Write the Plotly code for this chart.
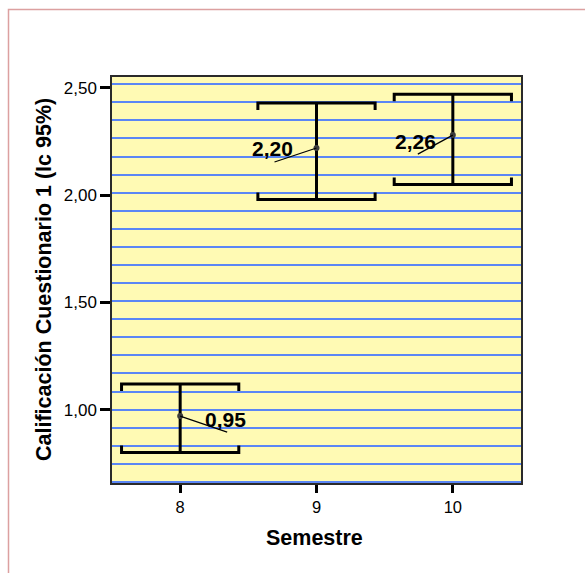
import plotly.graph_objects as go

# ---- data ----
semestres = [8, 9, 10]
medias = [0.97, 2.22, 2.28]
ic_inferior = [0.80, 1.98, 2.05]
ic_superior = [1.12, 2.43, 2.47]
etiquetas = ["0,95", "2,20", "2,26"]
y_tickvals = [1.0, 1.5, 2.0, 2.5]
y_ticktext = ["1,00", "1,50", "2,00", "2,50"]
x_ticktext = ["8", "9", "10"]

# ---- layout geometry (pixels) ----
W, H = 585, 573
ML, MR, MT, MB = 112, 64, 77, 90
PW, PH = W - ML - MR, H - MT - MB
YR = [0.658, 2.551]
XR = [7.5, 10.5]
u_per_px_y = (YR[1] - YR[0]) / PH

cap_half = 0.43
hook = 7 * u_per_px_y

FONT = "Arial, Liberation Sans, sans-serif"
label_offsets = [  # (line end dx, dy, text dx, dy) in screen px
    (47, 16, 45, 3),
    (-42, 14, -44, 1),
    (-35, 19, -37, 6),
]

fig = go.Figure()

for c, lo, hi in zip(semestres, ic_inferior, ic_superior):
    xs = [c - cap_half, c - cap_half, c + cap_half, c + cap_half, None,
          c, c, None,
          c - cap_half, c - cap_half, c + cap_half, c + cap_half]
    ys = [hi - hook, hi, hi, hi - hook, None,
          hi, lo, None,
          lo + hook, lo, lo, lo + hook]
    fig.add_trace(go.Scatter(x=xs, y=ys, mode="lines",
                             line=dict(color="black", width=3),
                             hoverinfo="skip", showlegend=False))

fig.add_trace(go.Scatter(x=semestres, y=medias, mode="markers",
                         marker=dict(color="#3c3c3c", size=6),
                         showlegend=False))

shapes = []
annotations = []
for c, m, lab, off in zip(semestres, medias, etiquetas, label_offsets):
    ldx, ldy, tdx, tdy = off
    shapes.append(dict(type="line", xref="x", yref="y",
                       xsizemode="pixel", ysizemode="pixel",
                       xanchor=c, yanchor=m,
                       x0=0, y0=0, x1=ldx, y1=-ldy,
                       line=dict(color="black", width=1.2)))
    annotations.append(dict(x=c, y=m, xref="x", yref="y",
                            text="<b>" + lab + "</b>",
                            showarrow=False, xshift=tdx, yshift=-tdy,
                            font=dict(family=FONT, size=21, color="black"),
                            xanchor="center", yanchor="middle"))


def px_to_paper_x(px):
    return (px - ML) / PW


def px_to_paper_y(py):
    return (H - MB - py) / PH


# outer pink frame
shapes.append(dict(type="rect", xref="paper", yref="paper",
                   x0=px_to_paper_x(8.5), x1=px_to_paper_x(620),
                   y0=px_to_paper_y(620), y1=px_to_paper_y(9.5),
                   line=dict(color="#dca0a0", width=1.5),
                   fillcolor="rgba(0,0,0,0)", layer="below"))

# axis titles
annotations.append(dict(xref="paper", yref="paper",
                        x=px_to_paper_x(44), y=0.5,
                        text="<b>Calificación Cuestionario 1 (Ic 95%)</b>",
                        textangle=-90, showarrow=False,
                        xanchor="center", yanchor="middle",
                        font=dict(family=FONT, size=21.5, color="black")))
annotations.append(dict(xref="paper", yref="paper",
                        x=px_to_paper_x(314), y=px_to_paper_y(538),
                        text="<b>Semestre</b>", showarrow=False,
                        xanchor="center", yanchor="middle",
                        font=dict(family=FONT, size=21.5, color="black")))

fig.update_layout(
    width=W, height=H,
    margin=dict(l=ML, r=MR, t=MT, b=MB),
    paper_bgcolor="white",
    plot_bgcolor="#fffab4",
    font=dict(family=FONT, size=16, color="black"),
    shapes=shapes,
    annotations=annotations,
    showlegend=False,
)
fig.update_xaxes(range=XR, tickvals=semestres, ticktext=x_ticktext,
                 ticks="outside", ticklen=8, tickwidth=3, tickcolor="black",
                 showgrid=False, zeroline=False,
                 showline=True, mirror=True, linecolor="#2a2a2a", linewidth=1.5,
                 tickfont=dict(size=16.5))
fig.update_yaxes(range=YR, tickvals=y_tickvals, ticktext=y_ticktext,
                 ticks="outside", ticklen=10, tickwidth=3, tickcolor="black",
                 showgrid=False, zeroline=False,
                 showline=True, mirror=True, linecolor="#2a2a2a", linewidth=1.5,
                 tickfont=dict(size=17),
                 minor=dict(tick0=1.0, dtick=0.0843, showgrid=True,
                            gridcolor="#5b86f5", gridwidth=1.6, ticks=""))

fig.write_html("out.html",
               config={"displayModeBar": False},
               post_script="document.body.style.margin='0';"
                           "document.body.style.padding='0';")
